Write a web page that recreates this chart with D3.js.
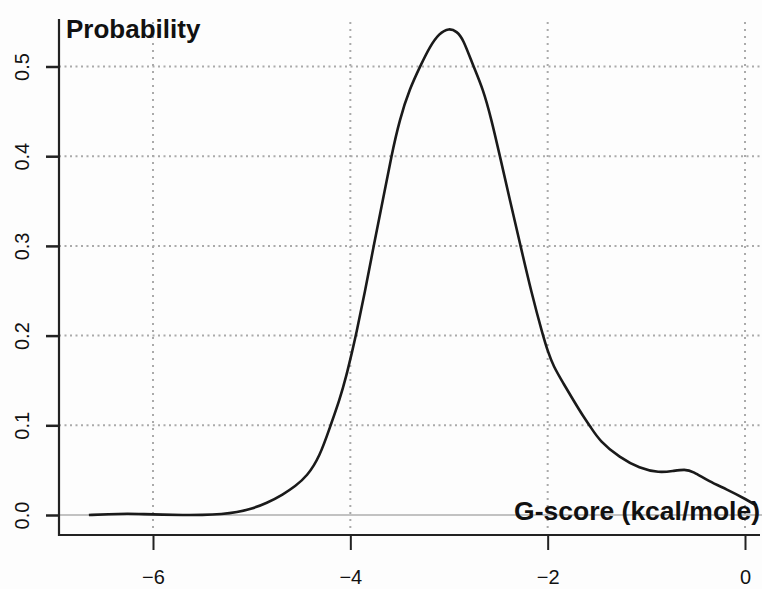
<!DOCTYPE html>
<html lang="en">
<head>
   <meta charset="UTF-8">
   <title>G-score density</title>
   <script src="https://cdn.jsdelivr.net/npm/d3@7"></script>
   <style>
       body { margin: 0; background: #fdfdfd; }
       svg { display: block; }
       text { font-family: "Liberation Sans", Arial, sans-serif; fill: #111; }
   </style>
</head>
<body>
   <svg width="762" height="589"></svg>

   <script>
       // data
       const gscore = [-6.65, -6.45, -6.25, -6.1, -5.9, -5.7, -5.5, -5.3, -5.15, -5.0, -4.85, -4.68, -4.56, -4.44,
           -4.31, -4.2, -4.11, -4.04, -3.978, -3.944, -3.853, -3.762, -3.668, -3.583, -3.5, -3.4, -3.28, -3.195,
           -3.1, -3.0, -2.92, -2.858, -2.756, -2.655, -2.57, -2.486, -2.385, -2.277, -2.165, -2.048, -1.997,
           -1.943, -1.842, -1.74, -1.64, -1.57, -1.47, -1.27, -1.07, -0.87, -0.73, -0.61, -0.53, -0.36, -0.19, 0.02, 0.12];
       const probability = [0.000, 0.001, 0.0015, 0.001, 0.0003, 0.0, 0.0, 0.001, 0.003, 0.007, 0.013, 0.023, 0.032, 0.043,
           0.065, 0.1, 0.128, 0.155, 0.184, 0.2, 0.248, 0.301, 0.352, 0.401, 0.441, 0.475, 0.503, 0.522,
           0.537, 0.543, 0.539, 0.531, 0.501, 0.475, 0.441, 0.401, 0.352, 0.301, 0.248, 0.2, 0.182,
           0.166, 0.147, 0.128, 0.11, 0.099, 0.082, 0.064, 0.052, 0.047, 0.049, 0.051, 0.049, 0.037, 0.029, 0.017, 0.01];
       const xTicks = [-6, -4, -2, 0];
       const yTicks = [0.0, 0.1, 0.2, 0.3, 0.4, 0.5];

       const points = gscore.map((g, i) => ({ x: g, y: probability[i] }));

       const svg = d3.select('svg');
       const width = 762, height = 589;
       const plotLeft = 59, plotBottom = 535, plotTop = 19;

       const x = d3.scaleLinear().domain([-6, 0]).range([153, 745]);
       const y = d3.scaleLinear().domain([0, 0.5]).range([515, 66.5]);

       // clip so the curve stops at the picture edge
       svg.append('clipPath').attr('id', 'plot-clip')
           .append('rect').attr('x', plotLeft).attr('y', 0).attr('width', 757 - plotLeft).attr('height', plotBottom);

       // dotted grid
       svg.append('g')
           .selectAll('line')
           .data(yTicks.filter(d => d > 0))
           .join('line')
           .attr('x1', plotLeft).attr('x2', width)
           .attr('y1', d => y(d)).attr('y2', d => y(d))
           .attr('stroke', '#aaa').attr('stroke-width', 2)
           .attr('stroke-dasharray', '2,3.5');

       svg.append('g')
           .selectAll('line')
           .data(xTicks)
           .join('line')
           .attr('x1', d => x(d)).attr('x2', d => x(d))
           .attr('y1', 22).attr('y2', 530)
           .attr('stroke', '#aaa').attr('stroke-width', 2)
           .attr('stroke-dasharray', '2,5');

       // zero line
       svg.append('line')
           .attr('x1', plotLeft).attr('x2', width)
           .attr('y1', y(0)).attr('y2', y(0))
           .attr('stroke', '#888').attr('stroke-width', 1.2);

       // density curve
       const line = d3.line()
           .x(d => x(d.x))
           .y(d => y(d.y))
           .curve(d3.curveBasis);

       svg.append('path')
           .datum(points)
           .attr('clip-path', 'url(#plot-clip)')
           .attr('d', line)
           .attr('fill', 'none')
           .attr('stroke', '#1a1a1a')
           .attr('stroke-width', 2.6)
           .attr('stroke-linejoin', 'round');

       // axes (L shaped box)
       const xAxis = d3.axisBottom(x).tickValues(xTicks).tickSize(15).tickPadding(20)
           .tickFormat(d => d === 0 ? '0' : '\u2212' + Math.abs(d));
       const gx = svg.append('g').attr('transform', `translate(0,${plotBottom})`).call(xAxis);
       gx.select('.domain').remove();
       gx.selectAll('.tick line').attr('stroke', '#222').attr('stroke-width', 2);
       gx.selectAll('.tick text').attr('font-size', 20).attr('fill', '#111').attr('dy', '0.68em')
           .style('font-family', 'Liberation Sans, Arial, sans-serif');

       const yAxis = d3.axisLeft(y).tickValues(yTicks).tickSize(13).tickFormat(d3.format('.1f'));
       const gy = svg.append('g').attr('transform', `translate(${plotLeft},0)`).call(yAxis);
       gy.select('.domain').remove();
       gy.selectAll('.tick line').attr('stroke', '#222').attr('stroke-width', 2.5);
       gy.selectAll('.tick text')
           .attr('x', 0).attr('dy', 0)
           .attr('transform', 'translate(-30,0) rotate(-90)')
           .attr('text-anchor', 'middle')
           .attr('font-size', 20).attr('fill', '#111')
           .style('font-family', 'Liberation Sans, Arial, sans-serif');

       svg.append('line')
           .attr('x1', plotLeft).attr('x2', plotLeft).attr('y1', plotTop).attr('y2', plotBottom + 1)
           .attr('stroke', '#222').attr('stroke-width', 2.2);
       svg.append('line')
           .attr('x1', plotLeft - 1).attr('x2', 760).attr('y1', plotBottom).attr('y2', plotBottom)
           .attr('stroke', '#222').attr('stroke-width', 2.2);

       // axis titles inside the plot
       svg.append('text')
           .attr('x', 66).attr('y', 38)
           .attr('font-size', 26).attr('font-weight', 'bold')
           .text('Probability');

       svg.append('text')
           .attr('x', 760).attr('y', 520)
           .attr('text-anchor', 'end')
           .attr('font-size', 26.5).attr('font-weight', 'bold')
           .text('G-score (kcal/mole)');
   </script>
</body>
</html>
